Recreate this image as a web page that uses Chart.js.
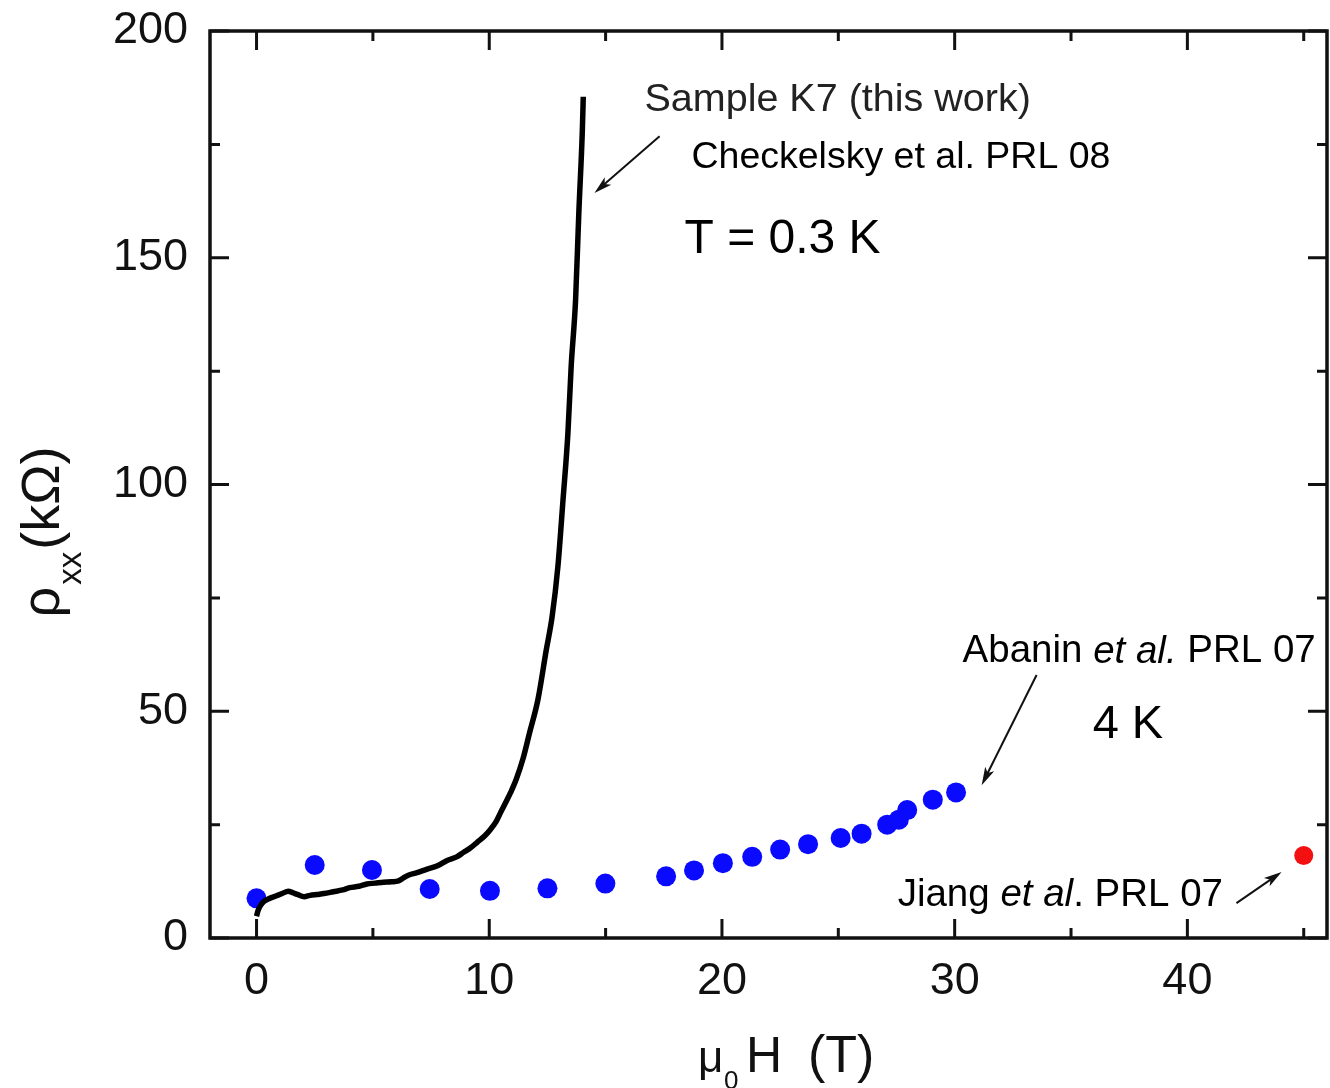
<!DOCTYPE html>
<html>
<head>
<meta charset="utf-8">
<script src="https://cdn.jsdelivr.net/npm/chart.js@4.4.1/dist/chart.umd.min.js"></script>
<style>
  html, body { margin: 0; padding: 0; background: #fff; }
</style>
</head>
<body>
<canvas id="c" width="1330" height="1088"></canvas>
<script>
// Sample K7 (this work), continuous trace
const k7Field = [0.0, 0.05, 0.15, 0.3, 0.5, 0.8, 1.1, 1.36, 1.55, 1.75, 2.05, 2.3, 2.6, 2.9, 3.3, 3.7, 4.0, 4.4, 4.74, 5.1, 5.46, 5.8, 6.1, 6.3, 6.5, 6.9, 7.33, 7.8, 8.19, 8.6, 8.9, 9.2, 9.48, 9.8, 10.06, 10.3, 10.49, 10.7, 10.92, 11.16, 11.45, 11.73, 12.09, 12.45, 12.7, 12.95, 13.17, 13.38, 13.52, 13.71, 13.85, 14.0, 14.04];
const k7Rho = [4.8, 5.8, 7.0, 8.0, 8.6, 9.2, 9.8, 10.3, 10.0, 9.6, 9.1, 9.4, 9.6, 9.8, 10.2, 10.6, 11.1, 11.4, 11.9, 12.1, 12.3, 12.4, 12.6, 13.2, 13.8, 14.4, 15.2, 16.0, 17.1, 17.9, 18.9, 19.9, 21.1, 22.5, 24.0, 25.7, 27.7, 29.8, 32.1, 35.0, 39.5, 45.2, 52.5, 63.5, 70.8, 81.9, 96.6, 111.3, 126.0, 140.7, 160.0, 178.0, 185.5];

// Abanin et al. PRL 07 (4 K)
const abaninField = [0, 2.5, 4.96, 7.44, 10.03, 12.5, 14.99, 17.6, 18.8, 20.04, 21.3, 22.5, 23.7, 25.1, 26.0, 27.1, 27.6, 27.96, 29.06, 30.06];
const abaninRho = [8.75, 16.1, 15.0, 10.8, 10.4, 10.95, 12.0, 13.6, 14.9, 16.5, 17.9, 19.5, 20.7, 22.05, 23.0, 25.0, 26.1, 28.2, 30.5, 32.1];

// Jiang et al. PRL 07
const jiangField = [45.0];
const jiangRho = [18.2];

const xTickValues = [0, 10, 20, 30, 40];
const yTickValues = [0, 50, 100, 150, 200];

const FONT = '"Liberation Sans", Arial, sans-serif';

function toPoints(xs, ys) {
  return xs.map((x, i) => ({ x: x, y: ys[i] }));
}

function arrow(ctx, x1, y1, x2, y2) {
  const a = Math.atan2(y2 - y1, x2 - x1);
  const len = 18, half = 5;
  ctx.beginPath();
  ctx.moveTo(x1, y1);
  ctx.lineTo(x2 - Math.cos(a) * len * 0.6, y2 - Math.sin(a) * len * 0.6);
  ctx.stroke();
  ctx.beginPath();
  ctx.moveTo(x2, y2);
  ctx.lineTo(x2 - Math.cos(a) * len + Math.sin(a) * half, y2 - Math.sin(a) * len - Math.cos(a) * half);
  ctx.lineTo(x2 - Math.cos(a) * len * 0.75, y2 - Math.sin(a) * len * 0.75);
  ctx.lineTo(x2 - Math.cos(a) * len - Math.sin(a) * half, y2 - Math.sin(a) * len + Math.cos(a) * half);
  ctx.closePath();
  ctx.fill();
}

function richText(ctx, x, y, parts, size) {
  let cx = x;
  parts.forEach(([t, italic]) => {
    ctx.font = (italic ? 'italic ' : '') + size + 'px ' + FONT;
    ctx.fillText(t, cx, y);
    cx += ctx.measureText(t).width;
  });
}

// frame, inward ticks, annotations and axis titles
const decorations = {
  id: 'decorations',
  afterDatasetsDraw(chart) {
    const { ctx, chartArea: a, scales: { x, y } } = chart;
    ctx.save();
    ctx.strokeStyle = '#111';
    ctx.fillStyle = '#111';
    ctx.lineWidth = 3.5;
    ctx.strokeRect(a.left, a.top, a.right - a.left, a.bottom - a.top);

    ctx.lineWidth = 3;
    ctx.beginPath();
    for (let v = 0; v <= 45; v += 5) {
      const px = x.getPixelForValue(v);
      const l = v % 10 === 0 ? 19 : 10;
      ctx.moveTo(px, a.bottom); ctx.lineTo(px, a.bottom - l);
      ctx.moveTo(px, a.top); ctx.lineTo(px, a.top + l);
    }
    for (let v = 0; v <= 200; v += 25) {
      const py = y.getPixelForValue(v);
      const l = v % 50 === 0 ? 19 : 10;
      ctx.moveTo(a.left, py); ctx.lineTo(a.left + l, py);
      ctx.moveTo(a.right, py); ctx.lineTo(a.right - l, py);
    }
    ctx.stroke();

    // annotations
    const X = v => x.getPixelForValue(v);
    const Y = v => y.getPixelForValue(v);
    ctx.textBaseline = 'middle';
    ctx.textAlign = 'left';
    ctx.fillStyle = '#222';
    richText(ctx, X(16.67), Y(184.8), [['Sample K7 (this work)', false]], 39.5);
    ctx.fillStyle = '#000';
    richText(ctx, X(18.69), Y(172.0), [['Checkelsky et al. PRL 08', false]], 37.5);
    richText(ctx, X(18.39), Y(153.9), [['T = 0.3 K', false]], 48);
    richText(ctx, X(30.34), Y(63.1), [['Abanin ', false], ['et al.', true], [' PRL 07', false]], 38.5);
    richText(ctx, X(35.93), Y(47.0), [['4 K', false]], 47);
    richText(ctx, X(27.55), Y(9.5), [['Jiang ', false], ['et al', true], ['. PRL 07', false]], 38.5);

    ctx.lineWidth = 2;
    ctx.strokeStyle = '#111';
    ctx.fillStyle = '#111';
    arrow(ctx, X(17.32), Y(176.8), X(14.52), Y(164.3));
    arrow(ctx, X(33.52), Y(58.0), X(31.16), Y(33.7));
    arrow(ctx, X(42.11), Y(7.7), X(44.05), Y(14.55));

    // x title: mu_0 H (T)
    ctx.fillStyle = '#111';
    ctx.textBaseline = 'alphabetic';
    const base = 1072;
    ctx.font = '44px ' + FONT;
    ctx.fillText('\u03bc', 698, base);
    ctx.font = '26px ' + FONT;
    ctx.fillText('0', 724, base + 17);
    ctx.font = '50px ' + FONT;
    ctx.fillText('H', 746, base);
    ctx.font = '52px ' + FONT;
    ctx.fillText('(T)', 808, base);

    // y title: rho_xx (kOhm)
    ctx.save();
    ctx.translate(59, 532);
    ctx.rotate(-Math.PI / 2);
    ctx.font = '54px ' + FONT;
    const wRho = ctx.measureText('\u03c1').width;
    const wK = ctx.measureText('(k\u03a9)').width;
    ctx.font = '33px ' + FONT;
    const wXX = ctx.measureText('xx').width;
    let ty = -(wRho + wXX + wK + 4) / 2;
    ctx.font = '54px ' + FONT;
    ctx.fillText('\u03c1', ty, 0);
    ty += wRho + 2;
    ctx.font = '33px ' + FONT;
    ctx.fillText('xx', ty, 22);
    ty += wXX + 2;
    ctx.font = '54px ' + FONT;
    ctx.fillText('(k\u03a9)', ty, 0);
    ctx.restore();

    ctx.restore();
  }
};

new Chart(document.getElementById('c'), {
  type: 'scatter',
  data: {
    datasets: [
      {
        label: 'Sample K7 (this work)',
        data: toPoints(k7Field, k7Rho),
        showLine: true,
        borderColor: '#000',
        borderWidth: 5.5,
        pointRadius: 0,
        cubicInterpolationMode: 'monotone',
        order: 0
      },
      {
        label: 'Abanin et al. PRL 07',
        data: toPoints(abaninField, abaninRho),
        showLine: false,
        backgroundColor: '#0a0aff',
        borderWidth: 0,
        pointRadius: 10,
        order: 1
      },
      {
        label: 'Jiang et al. PRL 07',
        data: toPoints(jiangField, jiangRho),
        showLine: false,
        backgroundColor: '#f21010',
        borderWidth: 0,
        pointRadius: 9.5,
        order: 1
      }
    ]
  },
  options: {
    responsive: false,
    animation: false,
    devicePixelRatio: 1,
    layout: { autoPadding: false, padding: { top: 31, right: 3, left: 0, bottom: 0 } },
    plugins: { legend: { display: false }, tooltip: { enabled: false } },
    scales: {
      x: {
        type: 'linear',
        min: -2,
        max: 46,
        grid: { display: false, drawTicks: false },
        border: { display: false },
        afterBuildTicks: s => { s.ticks = xTickValues.map(v => ({ value: v })); },
        afterFit: s => { s.height = 150; s.paddingLeft = 0; s.paddingRight = 0; },
        ticks: { color: '#111', font: { family: FONT, size: 45 }, padding: 17, maxRotation: 0 }
      },
      y: {
        type: 'linear',
        min: 0,
        max: 200,
        grid: { display: false, drawTicks: false },
        border: { display: false },
        afterBuildTicks: s => { s.ticks = yTickValues.map(v => ({ value: v })); },
        afterFit: s => { s.width = 210; s.paddingTop = 0; s.paddingBottom = 0; },
        ticks: { color: '#111', font: { family: FONT, size: 45 }, padding: 22 }
      }
    }
  },
  plugins: [decorations]
});
</script>
</body>
</html>
